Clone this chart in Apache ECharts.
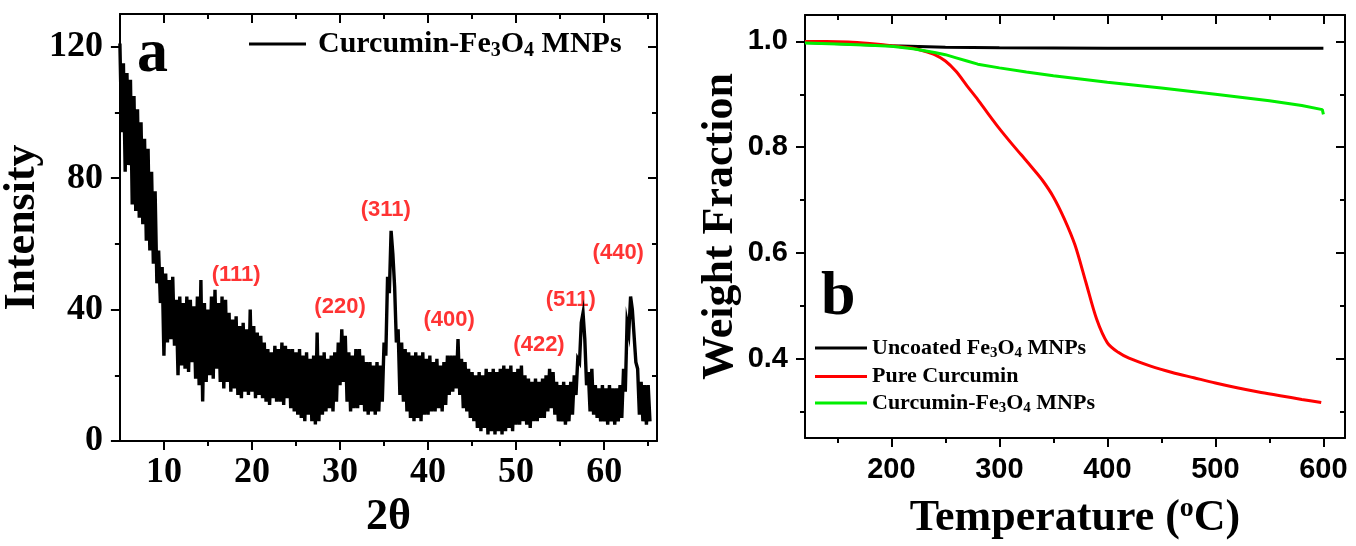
<!DOCTYPE html>
<html>
<head>
<meta charset="utf-8">
<script src="https://cdn.jsdelivr.net/npm/echarts@6/dist/echarts.min.js"></script>
<style>html,body{margin:0;padding:0;background:#fff}#c{width:1356px;height:546px}</style>
</head>
<body>
<div id="c"></div>
<script>
// ---------- Panel a: XRD ----------
const xrdStart = 5.0;
const xrdStep = 0.2;
const xrdIntensity = [
  121,94,115,82,112,84,110,72,105,70,
  101,68,97,66,92,61,89,58,82,54,
  76,48,58,42,53,26,51,30,49,31,
  50,29,43,20,44,23,42,22,44,21,
  43,24,41,19,44,17,49,12,42,18,
  40,20,44,19,46,22,42,18,44,16,
  43,18,39,15,37,16,38,14,35,13,
  36,15,34,14,40,15,35,13,33,14,
  32,13,30,12,28,11,27,13,29,12,
  28,12,30,11,29,13,28,10,28,9,
  27,8,28,7,26,6,27,8,25,6,
  26,5,33,6,26,8,27,9,25,10,
  26,9,27,12,30,17,34,18,32,12,
  27,9,26,10,28,10,28,11,26,9,
  24,8,24,9,23,8,24,9,23,12,
  30,26,50,45,64,57,47,30,34,14,
  30,12,28,9,27,7,26,6,27,7,
  26,6,27,8,25,8,26,9,24,9,
  25,10,23,9,24,11,26,14,26,15,
  26,16,31,14,25,10,24,9,22,7,
  21,6,20,4,21,3,20,4,22,2,
  21,3,22,2,21,3,22,2,23,3,
  22,4,23,3,21,5,22,5,23,6,
  20,5,19,4,18,6,19,6,18,7,
  19,7,20,9,22,10,21,8,18,6,
  17,6,18,5,17,6,18,8,20,14,
  25,24,36,39,31,17,21,9,22,8,
  17,7,16,6,17,6,16,5,17,6,
  16,5,16,6,17,7,22,15,36,33,
  44,40,40,24,22,8,18,6,17,5,
  17,6
];
const peakNames = ['(111)','(220)','(311)','(400)','(422)','(511)','(440)'];
const peakTheta = [18.2, 30.0, 35.2, 42.4, 52.6, 56.2, 61.6];
const peakIntensity = [50.6, 40.9, 70.4, 36.9, 29.3, 43.0, 57.3];
const xrdXLabels = [10,20,30,40,50,60];
const xrdXMinor = [15,25,35,45,55,65];
const xrdYLabels = [0,40,80,120];
const xrdYMinor = [20,60,100];

// ---------- Panel b: TGA ----------
const tempBlack = [120,160,200,250,300,400,500,600];
const wBlack = [0.998,0.995,0.992,0.989,0.988,0.987,0.987,0.987];
const tempRed = [120,140,160,180,200,220,230,240,250,260,270,280,290,300,310,320,330,340,350,360,370,380,390,400,410,420,440,460,480,500,520,540,560,580,598];
const wRed = [1.000,1.000,0.999,0.996,0.992,0.987,0.982,0.975,0.963,0.943,0.916,0.890,0.862,0.835,0.810,0.786,0.762,0.737,0.706,0.665,0.615,0.545,0.475,0.430,0.412,0.401,0.386,0.374,0.364,0.354,0.345,0.337,0.330,0.323,0.317];
const tempGreen = [120,150,180,200,220,240,250,260,270,280,300,325,350,375,400,450,500,550,580,599,600];
const wGreen = [0.997,0.995,0.993,0.991,0.986,0.979,0.975,0.969,0.963,0.957,0.950,0.942,0.935,0.929,0.923,0.912,0.900,0.888,0.879,0.871,0.862];
const tgaXLabels = [200,300,400,500,600];
const tgaXMinor = [150,250,350,450,550];
const tgaYLabels = [0.4,0.6,0.8,1.0];
const tgaYMinor = [0.3,0.5,0.7,0.9];

const serif = 'Liberation Serif';
const sans = 'Liberation Sans';
const xrdData = xrdIntensity.map((v, i) => [xrdStart + xrdStep * i, v]);
const zip = (a, b) => a.map((v, i) => [v, b[i]]);

function axisSet(dim, grid, min, max, majors, minors, labelStyle, name, nameStyle, nameGap) {
  const base = {type: 'value', gridIndex: grid, min: min, max: max, splitLine: {show: false}, silent: true};
  const line = {show: true, onZero: false, lineStyle: {color: '#000', width: 2}};
  const posA = dim === 'x' ? 'bottom' : 'left';
  const posB = dim === 'x' ? 'top' : 'right';
  return [
    Object.assign({}, base, {position: posA, axisLine: line,
      axisTick: {show: true, customValues: majors, length: 9, lineStyle: {color: '#000', width: 2}},
      axisLabel: Object.assign({show: true, customValues: majors}, labelStyle),
      name: name, nameLocation: 'middle', nameGap: nameGap, nameTextStyle: nameStyle}),
    Object.assign({}, base, {position: posA, axisLine: {show: false, onZero: false},
      axisTick: {show: true, customValues: minors, length: 5, lineStyle: {color: '#000', width: 2}},
      axisLabel: {show: false}}),
    Object.assign({}, base, {position: posB, axisLine: line,
      axisTick: {show: true, inside: true, customValues: majors, length: 9, lineStyle: {color: '#000', width: 2}},
      axisLabel: {show: false}}),
    Object.assign({}, base, {position: posB, axisLine: {show: false, onZero: false},
      axisTick: {show: true, inside: true, customValues: minors, length: 5, lineStyle: {color: '#000', width: 2}},
      axisLabel: {show: false}})
  ];
}

const serifLabel = {color: '#000', fontFamily: serif, fontWeight: 'bold', fontSize: 36};
const sansLabel = {color: '#000', fontFamily: sans, fontWeight: 'bold', fontSize: 29};
const titleStyle = {color: '#000', fontFamily: serif, fontWeight: 'bold', fontSize: 44};
const tempTitleStyle = {color: '#000', fontFamily: serif, fontWeight: 'bold', fontSize: 44,
  rich: {a: {color: '#000', fontFamily: serif, fontWeight: 'bold', fontSize: 44, lineHeight: 48},
         s: {color: '#000', fontFamily: serif, fontWeight: 'bold', fontSize: 28, lineHeight: 30, verticalAlign: 'top'}}};

const xAxes = [].concat(
  axisSet('x', 0, 5, 66, xrdXLabels, xrdXMinor, Object.assign({margin: 14}, serifLabel), '2θ', titleStyle, 36),
  axisSet('x', 1, 120, 620, tgaXLabels, tgaXMinor, Object.assign({margin: 17}, sansLabel), '{a|Temperature (}{s|o}{a|C)}', tempTitleStyle, 57)
);
const yAxes = [].concat(
  axisSet('y', 0, 0, 130, xrdYLabels, xrdYMinor, Object.assign({margin: 17}, serifLabel), 'Intensity', titleStyle, 54),
  axisSet('y', 1, 0.25, 1.05, tgaYLabels, tgaYMinor, Object.assign({margin: 17, formatter: v => v.toFixed(1)}, sansLabel), 'Weight Fraction', titleStyle, 62)
);

const legendNames = {
  xrd: '{p|}{a|Curcumin-Fe}{s|3}{a|O}{s|4}{a| MNPs}',
  uncoated: '{a|Uncoated Fe}{s|3}{a|O}{s|4}{a| MNPs}',
  pure: '{a|Pure Curcumin}',
  cfe: '{a|Curcumin-Fe}{s|3}{a|O}{s|4}{a| MNPs}'
};

const option = {
  animation: false,
  backgroundColor: '#fff',
  grid: [
    {left: 117, right: 699, top: 14, bottom: 105},
    {left: 805, right: 11, top: 15, bottom: 106}
  ],
  xAxis: xAxes,
  yAxis: yAxes,
  legend: [
    {data: ['xrd'], left: 249, top: 29, padding: 0, icon: 'rect', itemWidth: 57, itemHeight: 3,
      formatter: n => legendNames[n],
      textStyle: {rich: {
        p: {width: 7},
        a: {color: '#000', fontFamily: serif, fontWeight: 'bold', fontSize: 30, lineHeight: 34},
        s: {color: '#000', fontFamily: serif, fontWeight: 'bold', fontSize: 20, lineHeight: 19, verticalAlign: 'bottom'}
      }}},
    {data: ['uncoated', 'pure', 'cfe'], orient: 'vertical', left: 815, top: 337, padding: 0, icon: 'rect',
      itemWidth: 52, itemHeight: 3, itemGap: 4.5,
      formatter: n => legendNames[n],
      textStyle: {rich: {
        a: {color: '#000', fontFamily: serif, fontWeight: 'bold', fontSize: 22, lineHeight: 26},
        s: {color: '#000', fontFamily: serif, fontWeight: 'bold', fontSize: 15, lineHeight: 14, verticalAlign: 'bottom'}
      }}}
  ],
  graphic: [
    {type: 'text', left: 137, top: 24, style: {text: 'a', font: 'bold 62px "Liberation Serif"', fill: '#000'}},
    {type: 'text', left: 821, top: 267, style: {text: 'b', font: 'bold 62px "Liberation Serif"', fill: '#000'}}
  ],
  series: [
    {name: 'xrd', type: 'line', xAxisIndex: 0, yAxisIndex: 0, data: xrdData, showSymbol: false, symbol: 'none',
      color: '#000', lineStyle: {color: '#000', width: 3.4, join: 'miter'}, sampling: null},
    {name: 'peaks', type: 'scatter', xAxisIndex: 0, yAxisIndex: 0, symbolSize: 1, itemStyle: {color: 'rgba(0,0,0,0)'},
      data: peakNames.map((n, i) => ({name: n, value: [peakTheta[i], peakIntensity[i]]})),
      label: {show: true, position: 'inside', formatter: p => p.name, color: '#ff0000',
        fontFamily: sans, fontWeight: 'bold', fontSize: 22}},
    {name: 'uncoated', type: 'line', xAxisIndex: 4, yAxisIndex: 4, data: zip(tempBlack, wBlack), symbol: 'none',
      color: '#000', lineStyle: {color: '#000', width: 3}},
    {name: 'pure', type: 'line', xAxisIndex: 4, yAxisIndex: 4, data: zip(tempRed, wRed), symbol: 'none', smooth: 0.3,
      color: '#ff0000', lineStyle: {color: '#ff0000', width: 3}},
    {name: 'cfe', type: 'line', xAxisIndex: 4, yAxisIndex: 4, data: zip(tempGreen, wGreen), symbol: 'none',
      color: '#00ee00', lineStyle: {color: '#00ee00', width: 3}}
  ]
};
const chart = echarts.init(document.getElementById('c'), null, {renderer: 'canvas'});
chart.setOption(option);
</script>
</body>
</html>
